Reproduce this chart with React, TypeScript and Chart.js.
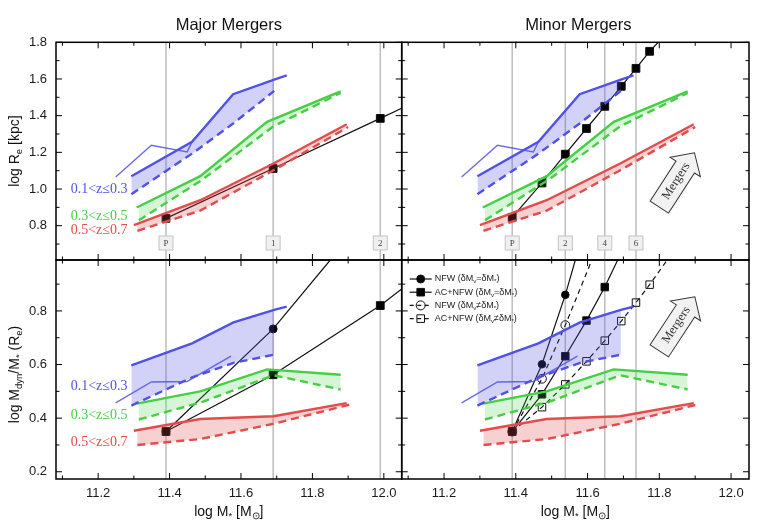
import { useEffect, useRef } from "react";
import { Chart, registerables } from "chart.js";

Chart.register(...registerables);

type Pt = [number, number];
type Seg = [string, number];

const W = 763;
const H = 526;
const SANS = "'Liberation Sans', Arial, sans-serif";
const SERIF = "'Liberation Serif', 'Times New Roman', serif";

const BLUE = "#5151e6";
const GREEN = "#45cf45";
const RED = "#e24c4c";
const BLUE_FILL = "rgba(81,81,230,0.26)";
const GREEN_FILL = "rgba(69,207,69,0.22)";
const RED_FILL = "rgba(226,76,76,0.26)";

// axis ranges
const X_RANGE = [11.082, 12.05];
const RE_RANGE = [0.613, 1.8];
const MD_RANGE = [0.173, 0.99];

const zLabels = ["0.1<z≤0.3", "0.3<z≤0.5", "0.5<z≤0.7"];

// log Re [kpc] vs log M*
const reBlueThin: Pt[] = [[11.249, 1.066], [11.349, 1.239], [11.449, 1.202], [11.463, 1.257]];
const reBlueSolid: Pt[] = [[11.293, 1.07], [11.463, 1.257], [11.578, 1.517], [11.693, 1.597], [11.728, 1.62]];
const reBlueDashed: Pt[] = [[11.293, 0.972], [11.463, 1.193], [11.578, 1.357], [11.693, 1.535]];
const reGreenSolid: Pt[] = [[11.308, 0.899], [11.486, 1.07], [11.673, 1.366], [11.879, 1.533]];
const reGreenDashed: Pt[] = [[11.314, 0.83], [11.491, 1.05], [11.691, 1.342], [11.879, 1.524]];
const reRedSolid: Pt[] = [[11.3, 0.803], [11.486, 0.939], [11.691, 1.139], [11.896, 1.353]];
const reRedDashed: Pt[] = [[11.31, 0.772], [11.486, 0.882], [11.691, 1.102], [11.9, 1.338]];

// log Mdyn/M* (Re) vs log M*
const mdBlueThin: Pt[] = [[11.249, 0.457], [11.349, 0.535], [11.449, 0.537], [11.572, 0.631]];
const mdBlueSolid: Pt[] = [[11.293, 0.597], [11.463, 0.679], [11.579, 0.757], [11.693, 0.804], [11.728, 0.816]];
const mdBlueDashed: Pt[] = [[11.293, 0.447], [11.463, 0.552], [11.579, 0.606], [11.693, 0.637]];
const mdGreenSolid: Pt[] = [[11.308, 0.454], [11.486, 0.5], [11.673, 0.582], [11.879, 0.562]];
const mdGreenDashed: Pt[] = [[11.314, 0.395], [11.491, 0.46], [11.691, 0.56], [11.879, 0.507]];
const mdRedSolid: Pt[] = [[11.3, 0.353], [11.486, 0.397], [11.691, 0.407], [11.896, 0.456]];
const mdRedDashed: Pt[] = [[11.31, 0.3], [11.486, 0.322], [11.691, 0.379], [11.903, 0.45]];

// major merger tracks
const majorSteps = [11.39, 11.69, 11.99];
const majorStepLabels = ["P", "1", "2"];
const majorRe = [0.84, 1.112, 1.385];
const majorReEdge: Pt = [12.05, 1.44];
const majorMdNfw = [0.35, 0.733];
const majorMdNfwEdge: Pt = [11.85, 0.99];
const majorMdAc = [0.35, 0.562, 0.82];
const majorMdAcEdge: Pt = [12.05, 0.882];

// minor merger tracks
const minorSteps = [11.39, 11.473, 11.538, 11.597, 11.648, 11.694, 11.735, 11.773];
const minorStepLabels = ["P", "", "2", "", "4", "", "6", ""];
const minorRe = [0.845, 1.033, 1.19, 1.33, 1.451, 1.56, 1.658, 1.751];
const minorReEdge: Pt = [11.797, 1.8];
const minorNfwEq = [0.35, 0.601, 0.86];
const minorNfwEqEdge: Pt = [11.566, 0.99];
const minorNfwNeq = [0.35, 0.547, 0.747];
const minorNfwNeqEdge: Pt = [11.612, 0.99];
const minorAcEq = [0.35, 0.489, 0.631, 0.764, 0.889];
const minorAcEqEdge: Pt = [11.684, 0.99];
const minorAcNeq = [0.35, 0.441, 0.526, 0.612, 0.689, 0.762, 0.831, 0.898];
const minorAcNeqEdge: Pt = [11.822, 0.99];

// annotation anchors (data units)
const zLabelX = 11.282;
const zLabelReY = [1.0, 0.849, 0.773];
const zLabelMdY = [0.517, 0.409, 0.308];
const arrowRe = { tail: [11.8, 0.901], tip: [11.898, 1.198] };
const arrowMd = { tail: [11.8, 0.651], tip: [11.899, 0.853] };

const legendItems = [
  { segs: [["NFW (δM", 0], ["v", 1], ["=δM", 0], ["*", 1], [")", 0]] as Seg[], style: "circle", filled: true, dashed: false },
  { segs: [["AC+NFW (δM", 0], ["v", 1], ["=δM", 0], ["*", 1], [")", 0]] as Seg[], style: "rect", filled: true, dashed: false },
  { segs: [["NFW (δM", 0], ["v", 1], ["≠δM", 0], ["*", 1], [")", 0]] as Seg[], style: "circle", filled: false, dashed: true },
  { segs: [["AC+NFW (δM", 0], ["v", 1], ["≠δM", 0], ["*", 1], [")", 0]] as Seg[], style: "rect", filled: false, dashed: true },
];

const Y_AXIS_W = 44;
const X_AXIS_H = 26;

const isMajor = (v: number) => Math.abs(v * 5 - Math.round(v * 5)) < 1e-6;
const pts = (a: Pt[]) => a.map(([x, y]) => ({ x, y }));

function drawRich(ctx: any, segs: Seg[], x: number, y: number, size: number, family: string, align: string) {
  const fontOf = (sub: number) => `${sub ? size * 0.68 : size}px ${family}`;
  let total = 0;
  for (const [t, sub] of segs) {
    ctx.font = fontOf(sub);
    total += ctx.measureText(t).width;
  }
  let cx = align === "left" ? x : align === "center" ? x - total / 2 : x - total;
  ctx.textAlign = "left";
  ctx.textBaseline = "middle";
  for (const [t, sub] of segs) {
    ctx.font = fontOf(sub);
    ctx.fillText(t, cx, sub ? y + size * 0.3 : y);
    cx += ctx.measureText(t).width;
  }
}

function band(solid: Pt[], dashed: Pt[], color: string, fillColor: string) {
  const lastX = dashed[dashed.length - 1][0];
  return [
    {
      data: pts(solid.filter((p) => p[0] <= lastX + 1e-9)),
      borderColor: "rgba(0,0,0,0)",
      borderWidth: 0,
      pointRadius: 0,
      fill: "+1",
      backgroundColor: fillColor,
      order: 1,
    },
    { data: pts(dashed), borderColor: color, borderWidth: 2.4, borderDash: [8, 5], pointRadius: 0, fill: false, order: 0 },
    { data: pts(solid), borderColor: color, borderWidth: 2.4, pointRadius: 0, fill: false, order: 0 },
  ];
}

function thin(line: Pt[]) {
  return { data: pts(line), borderColor: "rgba(81,81,230,0.85)", borderWidth: 1.4, pointRadius: 0, fill: false, order: 0 };
}

function track(xs: number[], ys: number[], edge: Pt, style: string, filled: boolean, dashed: boolean, radius: number, order: number) {
  const data = ys.map((y, i) => ({ x: xs[i], y })).concat([{ x: edge[0], y: edge[1] }]);
  return {
    data,
    borderColor: "#111",
    borderWidth: 1.2,
    borderDash: dashed ? [5, 4] : [],
    pointStyle: style,
    pointRadius: data.map((_, i) => (i < ys.length ? radius : 0)),
    pointBackgroundColor: filled ? "#000" : "rgba(255,255,255,0)",
    pointBorderColor: "#111",
    pointBorderWidth: 1,
    fill: false,
    order,
  };
}

function axis(range: number[], labels: boolean, horizontal: boolean) {
  return {
    type: "linear",
    min: range[0],
    max: range[1],
    grid: { display: false, drawTicks: false },
    border: { display: false },
    ticks: {
      display: labels,
      stepSize: 0.1,
      includeBounds: false,
      autoSkip: false,
      maxTicksLimit: 100,
      maxRotation: 0,
      padding: horizontal ? 7 : 9,
      color: "#1a1a1a",
      font: { family: SANS, size: 13 },
      callback: (v: number) => (isMajor(v) ? v.toFixed(1) : ""),
    },
    afterFit: (s: any) => {
      if (horizontal) s.height = labels ? X_AXIS_H : 0;
      else s.width = labels ? Y_AXIS_W : 0;
    },
  };
}

function drawArrow(chart: any, spec: any) {
  const { ctx, scales } = chart;
  const x0 = scales.x.getPixelForValue(spec.tail[0]);
  const y0 = scales.y.getPixelForValue(spec.tail[1]);
  const x1 = scales.x.getPixelForValue(spec.tip[0]);
  const y1 = scales.y.getPixelForValue(spec.tip[1]);
  const L = Math.hypot(x1 - x0, y1 - y0);
  const ang = Math.atan2(y1 - y0, x1 - x0);
  const bw = 11, hw = 18, hl = 17;
  ctx.save();
  ctx.translate(x0, y0);
  ctx.rotate(ang);
  ctx.beginPath();
  ctx.moveTo(0, -bw);
  ctx.lineTo(L - hl, -bw);
  ctx.lineTo(L - hl, -hw);
  ctx.lineTo(L, 0);
  ctx.lineTo(L - hl, hw);
  ctx.lineTo(L - hl, bw);
  ctx.lineTo(0, bw);
  ctx.closePath();
  ctx.fillStyle = "#f2f2f2";
  ctx.fill();
  ctx.strokeStyle = "#333";
  ctx.lineWidth = 1;
  ctx.stroke();
  ctx.fillStyle = "#333";
  drawRich(ctx, [["Mergers", 0]], 31, 0, 12.5, SERIF, "center");
  ctx.restore();
}

function makePlugin(p: any) {
  return {
    id: "panelDecor",
    beforeDatasetsDraw(chart: any) {
      const { ctx, chartArea: a, scales } = chart;
      ctx.save();
      ctx.strokeStyle = "#bdbdbd";
      ctx.lineWidth = 1.5;
      p.steps.forEach((s: number, i: number) => {
        if (!p.stepLabels[i]) return;
        const px = scales.x.getPixelForValue(s);
        ctx.beginPath();
        ctx.moveTo(px, a.top);
        ctx.lineTo(px, a.bottom);
        ctx.stroke();
      });
      ctx.restore();
    },
    afterDatasetsDraw(chart: any) {
      const { ctx, chartArea: a, scales } = chart;
      ctx.save();
      // frame with inward ticks
      ctx.strokeStyle = "#000";
      ctx.lineWidth = 1;
      ctx.beginPath();
      for (const t of scales.x.ticks) {
        const px = scales.x.getPixelForValue(t.value);
        const len = isMajor(t.value) ? 6 : 3.5;
        ctx.moveTo(px, a.bottom);
        ctx.lineTo(px, a.bottom - len);
        ctx.moveTo(px, a.top);
        ctx.lineTo(px, a.top + len);
      }
      for (const t of scales.y.ticks) {
        const py = scales.y.getPixelForValue(t.value);
        const len = isMajor(t.value) ? 6 : 3.5;
        ctx.moveTo(a.left, py);
        ctx.lineTo(a.left + len, py);
        ctx.moveTo(a.right, py);
        ctx.lineTo(a.right - len, py);
      }
      ctx.stroke();
      ctx.lineWidth = 1.5;
      ctx.strokeRect(a.left, a.top, a.right - a.left, a.bottom - a.top);

      // step boxes
      if (p.boxes) {
        p.steps.forEach((s: number, i: number) => {
          const lab = p.stepLabels[i];
          if (!lab) return;
          const px = scales.x.getPixelForValue(s);
          const py = a.bottom - 17;
          ctx.fillStyle = "#f0f0f0";
          ctx.fillRect(px - 7, py - 7, 14, 14);
          ctx.strokeStyle = "#c4c4c4";
          ctx.lineWidth = 1;
          ctx.strokeRect(px - 7, py - 7, 14, 14);
          ctx.fillStyle = "#444";
          drawRich(ctx, [[lab, 0]], px, py + 1, 9, SERIF, "center");
        });
      }

      // redshift labels
      if (p.zY) {
        const colors = [BLUE, GREEN, RED];
        zLabels.forEach((lab, i) => {
          ctx.fillStyle = colors[i];
          drawRich(ctx, [[lab, 0]], scales.x.getPixelForValue(zLabelX), scales.y.getPixelForValue(p.zY[i]), 14, SERIF, "right");
        });
      }

      if (p.arrow) drawArrow(chart, p.arrow);

      // legend
      if (p.legend) {
        legendItems.forEach((it, i) => {
          const y = a.top + 19 + i * 13.2;
          const x0 = a.left + 8;
          ctx.strokeStyle = "#111";
          ctx.lineWidth = 1.2;
          ctx.setLineDash(it.dashed ? [4, 3.5] : []);
          ctx.beginPath();
          ctx.moveTo(x0, y);
          ctx.lineTo(x0 + 22, y);
          ctx.stroke();
          ctx.setLineDash([]);
          const cx = x0 + 11;
          ctx.fillStyle = it.filled ? "#000" : "rgba(255,255,255,0)";
          ctx.lineWidth = 1;
          ctx.beginPath();
          if (it.style === "circle") ctx.arc(cx, y, it.filled ? 4 : 4.5, 0, Math.PI * 2);
          else ctx.rect(cx - 3.8, y - 3.8, 7.6, 7.6);
          ctx.fill();
          ctx.stroke();
          ctx.fillStyle = "#222";
          drawRich(ctx, it.segs, x0 + 25, y, 9, SANS, "left");
        });
      }

      // titles
      ctx.fillStyle = "#111";
      if (p.title) drawRich(ctx, [[p.title, 0]], (a.left + a.right) / 2 + p.titleShift, 25, 16.5, SANS, "center");
      if (p.xTitle) drawRich(ctx, [["log M", 0], ["*", 1], [" [M", 0], ["⊙", 1], ["]", 0]], (a.left + a.right) / 2, 512, 14, SANS, "center");
      if (p.yTitle) {
        ctx.save();
        ctx.translate(15, (a.top + a.bottom) / 2 + p.yTitleShift);
        ctx.rotate(-Math.PI / 2);
        drawRich(ctx, p.yTitle, 0, 0, 14, SANS, "center");
        ctx.restore();
      }
      ctx.restore();
    },
  };
}

function makeConfig(p: any) {
  const a = p.area;
  const padLeft = a[0] - (p.yLabels ? Y_AXIS_W : 0);
  const padBottom = H - a[3] - (p.xLabels ? X_AXIS_H : 0);
  return {
    type: "line",
    data: { datasets: p.datasets },
    options: {
      responsive: false,
      animation: false,
      events: [],
      layout: { padding: { left: padLeft, top: a[1], right: W - a[2], bottom: padBottom } },
      plugins: { legend: { display: false }, tooltip: { enabled: false } },
      scales: { x: axis(X_RANGE, p.xLabels, true), y: axis(p.yRange, p.yLabels, false) },
    },
    plugins: [makePlugin(p)],
  };
}

const reBands = () => [
  ...band(reBlueSolid, reBlueDashed, BLUE, BLUE_FILL),
  thin(reBlueThin),
  ...band(reGreenSolid, reGreenDashed, GREEN, GREEN_FILL),
  ...band(reRedSolid, reRedDashed, RED, RED_FILL),
];
const mdBands = () => [
  ...band(mdBlueSolid, mdBlueDashed, BLUE, BLUE_FILL),
  thin(mdBlueThin),
  ...band(mdGreenSolid, mdGreenDashed, GREEN, GREEN_FILL),
  ...band(mdRedSolid, mdRedDashed, RED, RED_FILL),
];

const panels = [
  () =>
    makeConfig({
      area: [56, 42.3, 401.7, 260],
      yRange: RE_RANGE,
      xLabels: false,
      yLabels: true,
      steps: majorSteps,
      stepLabels: majorStepLabels,
      boxes: true,
      zY: zLabelReY,
      title: "Major Mergers",
      titleShift: 0,
      yTitle: [["log R", 0], ["e", 1], [" [kpc]", 0]],
      yTitleShift: 0,
      datasets: [...reBands(), track(majorSteps, majorRe, majorReEdge, "rect", true, false, 5.5, 3)],
    }),
  () =>
    makeConfig({
      area: [401.7, 42.3, 749, 260],
      yRange: RE_RANGE,
      xLabels: false,
      yLabels: false,
      steps: minorSteps,
      stepLabels: minorStepLabels,
      boxes: true,
      arrow: arrowRe,
      title: "Minor Mergers",
      titleShift: 3,
      datasets: [...reBands(), track(minorSteps, minorRe, minorReEdge, "rect", true, false, 5.5, 3)],
    }),
  () =>
    makeConfig({
      area: [56, 260, 401.7, 479],
      yRange: MD_RANGE,
      xLabels: true,
      yLabels: true,
      steps: majorSteps,
      stepLabels: majorStepLabels,
      zY: zLabelMdY,
      xTitle: true,
      yTitle: [["log M", 0], ["dyn", 1], ["/M", 0], ["*", 1], [" (R", 0], ["e", 1], [")", 0]],
      yTitleShift: 5,
      datasets: [
        ...mdBands(),
        track(majorSteps, majorMdAc, majorMdAcEdge, "rect", true, false, 5.5, 3),
        track(majorSteps, majorMdNfw, majorMdNfwEdge, "circle", true, false, 4, 4),
      ],
    }),
  () =>
    makeConfig({
      area: [401.7, 260, 749, 479],
      yRange: MD_RANGE,
      xLabels: true,
      yLabels: false,
      steps: minorSteps,
      stepLabels: minorStepLabels,
      arrow: arrowMd,
      legend: true,
      xTitle: true,
      datasets: [
        ...mdBands(),
        track(minorSteps, minorNfwEq, minorNfwEqEdge, "circle", true, false, 3.8, 3),
        track(minorSteps, minorAcEq, minorAcEqEdge, "rect", true, false, 5.3, 3.5),
        track(minorSteps, minorNfwNeq, minorNfwNeqEdge, "circle", false, true, 4.4, 4),
        track(minorSteps, minorAcNeq, minorAcNeqEdge, "rect", false, true, 5.3, 4.5),
      ],
    }),
];

function Panel({ make }: { make: () => any }) {
  const ref = useRef<HTMLCanvasElement>(null);
  useEffect(() => {
    if (!ref.current) return;
    const chart = new Chart(ref.current, make());
    return () => chart.destroy();
  }, [make]);
  return (
    <canvas
      ref={ref}
      width={W}
      height={H}
      style={{ position: "absolute", left: 0, top: 0, width: W, height: H }}
    />
  );
}

export default function App() {
  return (
    <div style={{ position: "fixed", left: 0, top: 0, width: W, height: H, background: "#fff" }}>
      {panels.map((make, i) => (
        <Panel key={i} make={make} />
      ))}
    </div>
  );
}
